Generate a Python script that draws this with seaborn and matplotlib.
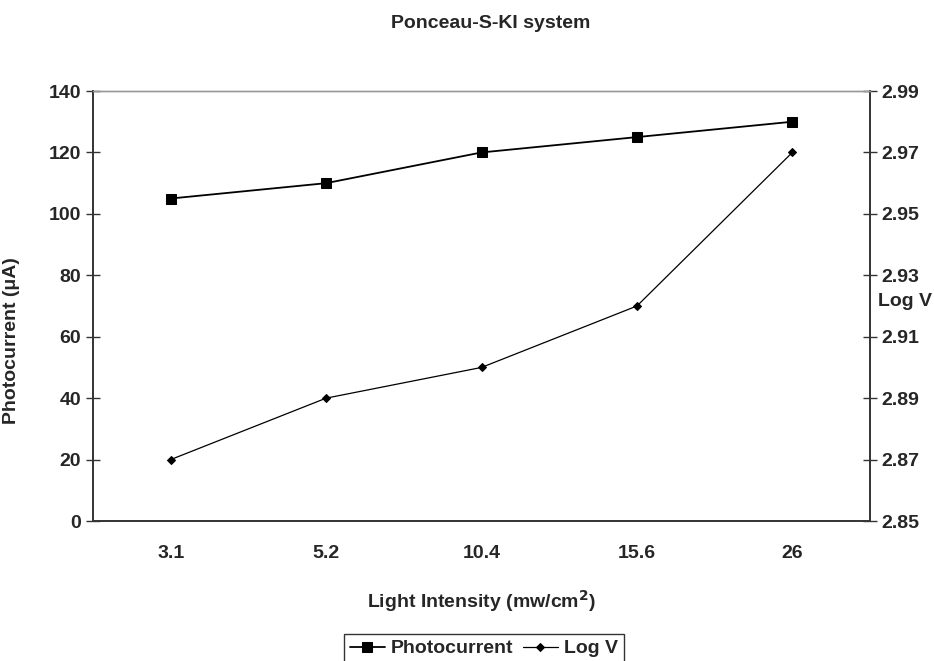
import pandas as pd
import matplotlib.pyplot as plt
import seaborn as sns

intensity = ["3.1", "5.2", "10.4", "15.6", "26"]
photocurrent = [105, 110, 120, 125, 130]
log_v = [2.87, 2.89, 2.90, 2.92, 2.97]

sns.set_style("white")
plt.rcParams["font.family"] = ["Liberation Sans", "DejaVu Sans"]
plt.rcParams["font.weight"] = "bold"

df = pd.DataFrame({"pos": range(len(intensity)), "Photocurrent": photocurrent, "Log V": log_v})

fig = plt.figure(figsize=(9.34, 6.61), dpi=100)
ax = fig.add_axes([0.0996, 0.2118, 0.8319, 0.6505])
ax2 = ax.twinx()

sns.lineplot(data=df, x="pos", y="Photocurrent", ax=ax, color="black", lw=1.3,
             marker="s", markersize=7, markeredgecolor="black")
sns.lineplot(data=df, x="pos", y="Log V", ax=ax2, color="black", lw=0.9,
             marker="D", markersize=4.5, markeredgecolor="black")

fs = 14
ax.set_xlim(-0.5, 4.5)
ax.set_ylim(0, 140)
ax.set_yticks(range(0, 141, 20))
ax.set_xticks(range(len(intensity)))
ax.set_xticklabels(intensity, fontsize=fs, fontweight="bold")
ax.set_xticks([0.5, 1.5, 2.5, 3.5], minor=True)
ax.tick_params(axis="x", which="major", length=0, pad=17)
ax.tick_params(axis="x", which="minor", direction="inout", length=10, width=1, color="#333333")
ax.tick_params(axis="y", direction="inout", length=10, width=1, color="#333333", labelsize=fs)
for lab in ax.get_yticklabels():
    lab.set_fontweight("bold")

ax2.set_ylim(2.85, 2.99)
ax2.set_yticks([2.85, 2.87, 2.89, 2.91, 2.93, 2.95, 2.97, 2.99])
ax2.set_yticklabels(["2.85", "2.87", "2.89", "2.91", "2.93", "2.95", "2.97", "2.99"],
                    fontsize=fs, fontweight="bold")
ax2.tick_params(axis="y", direction="inout", length=10, width=1, color="#333333")

for a in (ax, ax2):
    for side in ("left", "right", "bottom"):
        a.spines[side].set_color("#333333")
        a.spines[side].set_linewidth(1.2)
    a.spines["top"].set_color("#999999")
    a.spines["top"].set_linewidth(1.0)

ax.set_xlabel("Light Intensity (mw/cm$^{2}$)", fontsize=fs, fontweight="bold", labelpad=19)
ax.set_ylabel("Photocurrent (\u03bcA)", fontsize=fs, fontweight="bold")
ax.yaxis.set_label_coords(-0.094, 0.42)
ax2.set_ylabel("Log V", fontsize=fs, fontweight="bold", rotation=0, ha="left", va="center")
ax2.yaxis.set_label_coords(1.01, 0.51)

fig.suptitle("Ponceau-S-KI system", x=0.525, y=0.978, fontsize=fs, fontweight="bold")

handles = ax.get_lines()[:1] + ax2.get_lines()[:1]
leg = fig.legend(handles, ["Photocurrent", "Log V"], loc="lower center", ncol=2,
                 bbox_to_anchor=(0.518, -0.018), frameon=True, fancybox=False,
                 prop={"size": fs, "weight": "bold"}, handlelength=1.8,
                 handletextpad=0.3, columnspacing=0.5, borderpad=0.3)
leg.get_frame().set_edgecolor("black")
leg.get_frame().set_linewidth(1.0)

fig.savefig("out.png", dpi=100)
